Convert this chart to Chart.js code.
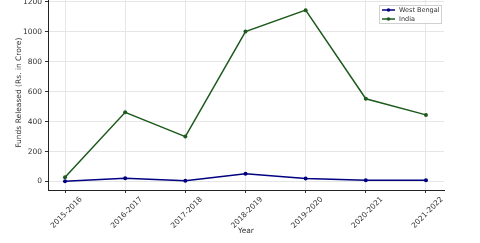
<!DOCTYPE html>
<html>
<head>
<meta charset="utf-8">
<script src="https://cdn.jsdelivr.net/npm/chart.js@4"></script>
<style>
  html, body { margin: 0; padding: 0; background: #fff; }
  #wrap { position: relative; width: 480px; height: 243px; overflow: hidden; }
  #chart { position: absolute; left: 0; top: -12px; }
</style>
</head>
<body>
<div id="wrap"><canvas id="chart" width="480" height="255"></canvas></div>
<script>
// data
const years = ['2015-2016', '2016-2017', '2017-2018', '2018-2019', '2019-2020', '2020-2021', '2021-2022'];
const westBengal = [1, 22, 5, 52, 20, 8, 8];
const india = [28, 462, 300, 1002, 1145, 553, 445];
const yTicks = [0, 200, 400, 600, 800, 1000, 1200];

const FONT = 'DejaVu Sans';

// legend drawn inside the plot, top right
const innerLegend = {
    id: 'innerLegend',
    afterDraw(chart) {
        const ctx = chart.ctx;
        const area = chart.chartArea;
        const w = 63, h = 19;
        const x = area.right - w - 2;
        const y = 17;
        ctx.save();
        ctx.fillStyle = 'rgba(255,255,255,0.85)';
        ctx.strokeStyle = '#d0d0d0';
        ctx.lineWidth = 1;
        ctx.fillRect(x, y, w, h);
        ctx.strokeRect(x + 0.5, y + 0.5, w - 1, h - 1);
        ctx.font = '6.5px ' + FONT;
        ctx.textBaseline = 'middle';
        chart.data.datasets.forEach((ds, i) => {
            const ly = y + 5 + i * 9;
            ctx.strokeStyle = ds.borderColor;
            ctx.lineWidth = 1.5;
            ctx.beginPath();
            ctx.moveTo(x + 3, ly);
            ctx.lineTo(x + 16, ly);
            ctx.stroke();
            ctx.fillStyle = ds.borderColor;
            ctx.beginPath();
            ctx.arc(x + 9.5, ly, 1.8, 0, Math.PI * 2);
            ctx.fill();
            ctx.fillStyle = '#333';
            ctx.fillText(ds.label, x + 20, ly + 0.5);
        });
        ctx.restore();
    }
};

const ctx = document.getElementById('chart').getContext('2d');
new Chart(ctx, {
    type: 'line',
    data: {
        datasets: [{
            label: 'West Bengal',
            data: westBengal.map((v, i) => ({ x: i, y: v })),
            borderColor: '#000080',
            backgroundColor: '#000080',
            borderWidth: 1.5,
            pointRadius: 2,
            pointBorderWidth: 0,
            pointHoverRadius: 2,
            tension: 0,
        }, {
            label: 'India',
            data: india.map((v, i) => ({ x: i, y: v })),
            borderColor: '#1d5a1d',
            backgroundColor: '#1d5a1d',
            borderWidth: 1.5,
            pointRadius: 2,
            pointBorderWidth: 0,
            pointHoverRadius: 2,
            tension: 0,
        }],
    },
    options: {
        responsive: false,
        animation: false,
        layout: { padding: { top: 5, right: 36, left: 0, bottom: 0 } },
        plugins: {
            legend: { display: false },
            tooltip: { enabled: false },
        },
        scales: {
            x: {
                type: 'linear',
                min: -0.283,
                max: 6.3,
                afterBuildTicks: s => { s.ticks = years.map((_, i) => ({ value: i })); },
                afterFit: s => { s.height = 53; },
                grid: { color: '#e6e6e6', tickColor: '#333', tickLength: 3 },
                border: { color: '#222', width: 1 },
                ticks: {
                    callback: v => years[v],
                    minRotation: 45,
                    maxRotation: 45,
                    labelOffset: 16,
                    padding: 2,
                    color: '#333',
                    font: { family: FONT, size: 7.5 },
                },
                title: {
                    display: true,
                    text: 'Year',
                    color: '#333',
                    font: { family: FONT, size: 7.5 },
                    padding: { top: 0, bottom: 7 },
                },
            },
            y: {
                min: -57,
                max: 1243,
                afterBuildTicks: s => { s.ticks = yTicks.map(v => ({ value: v })); },
                afterFit: s => { s.width = 48; },
                grid: { color: '#e6e6e6', tickColor: '#333', tickLength: 3 },
                border: { color: '#222', width: 1 },
                ticks: {
                    callback: v => String(v),
                    padding: 3,
                    color: '#333',
                    font: { family: FONT, size: 7.5 },
                },
                title: {
                    display: true,
                    text: 'Funds Released (Rs. in Crore)',
                    color: '#333',
                    font: { family: FONT, size: 7.5 },
                    padding: { top: 15, bottom: 0 },
                },
            },
        },
    },
    plugins: [innerLegend],
});
</script>
</body>
</html>
